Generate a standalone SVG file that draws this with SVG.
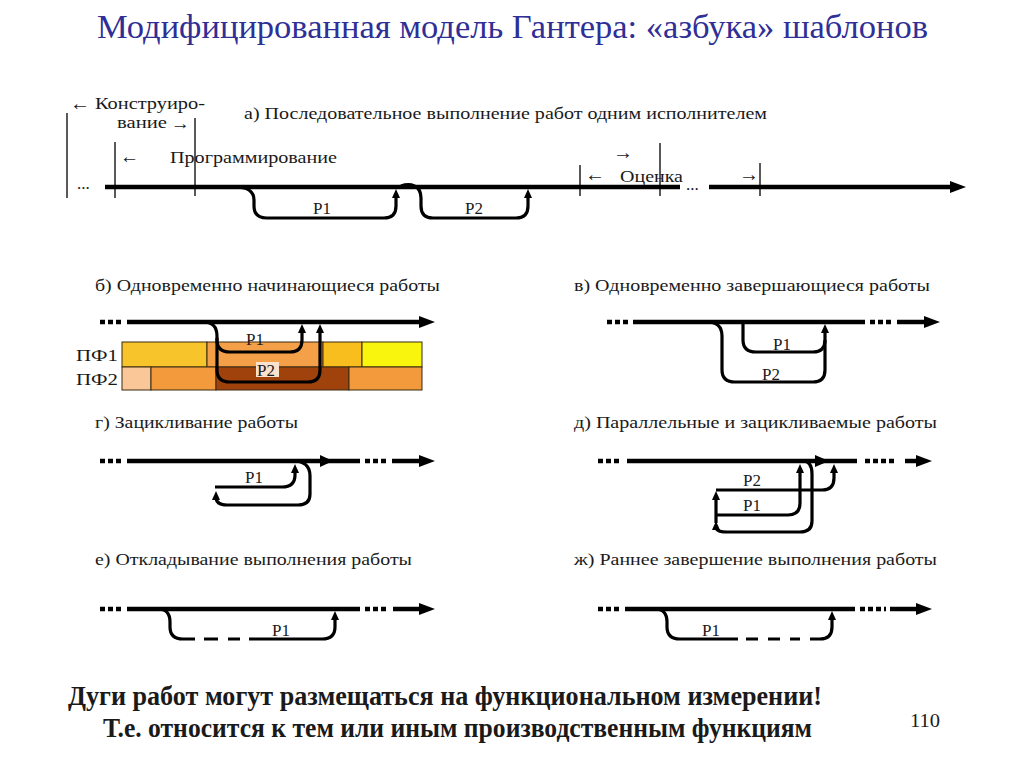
<svg xmlns="http://www.w3.org/2000/svg" width="1024" height="767" viewBox="0 0 1024 767">
<defs>
<style>
.t{font-family:"Liberation Serif","DejaVu Serif","Times New Roman",serif;fill:#1a1a1a}
.lb{font-size:17px}
.pl{font-size:17px}
.ar{font-size:20px}
.main{stroke:#000;stroke-width:4.5;fill:none}
.arc{stroke:#000;stroke-width:3.2;fill:none;stroke-linecap:butt}
.dots{stroke:#000;stroke-width:4.5;stroke-dasharray:5 3;fill:none}
.tick{stroke:#222;stroke-width:1.5}
.cell{stroke:#3a2a10;stroke-width:1}
</style>
<marker id="ah" markerUnits="userSpaceOnUse" viewBox="0 0 16 12" markerWidth="16" markerHeight="12" refX="5" refY="6" orient="auto"><path d="M0,0 L16,6 L0,12 z" fill="#000"/></marker>
<marker id="sa" markerUnits="userSpaceOnUse" viewBox="0 0 9 8" markerWidth="9" markerHeight="8" refX="3" refY="4" orient="auto"><path d="M0,0 L9,4 L0,8 z" fill="#000"/></marker>
</defs>
<rect width="1024" height="767" fill="#fff"/>

<g id="title">
<text class="t" x="97" y="38" font-size="33" style="fill:#2f2f96" textLength="831" lengthAdjust="spacingAndGlyphs">Модифицированная модель Гантера: «азбука» шаблонов</text>
</g>

<g id="sec-a">
<text class="t ar" x="70" y="110" textLength="20" lengthAdjust="spacingAndGlyphs">←</text>
<text class="t lb" x="95" y="109" textLength="110" lengthAdjust="spacingAndGlyphs">Конструиро-</text>
<text class="t lb" x="117" y="128" textLength="50" lengthAdjust="spacingAndGlyphs">вание</text>
<text class="t lb" x="171" y="129" textLength="19" lengthAdjust="spacingAndGlyphs">→</text>
<text class="t lb" x="244" y="119" textLength="523" lengthAdjust="spacingAndGlyphs">а) Последовательное выполнение работ одним исполнителем</text>
<line class="tick" x1="67" y1="113" x2="67" y2="198"/>
<line class="tick" x1="195" y1="118" x2="195" y2="196"/>
<line class="tick" x1="115" y1="142" x2="115" y2="198"/>
<line class="tick" x1="580" y1="165" x2="580" y2="196"/>
<line class="tick" x1="660" y1="143" x2="660" y2="196"/>
<line class="tick" x1="760" y1="163" x2="760" y2="196"/>
<text class="t ar" x="120" y="163" textLength="19" lengthAdjust="spacingAndGlyphs">←</text>
<text class="t lb" x="170" y="163" textLength="167" lengthAdjust="spacingAndGlyphs">Программирование</text>
<text class="t ar" x="613" y="159" textLength="20" lengthAdjust="spacingAndGlyphs">→</text>
<text class="t ar" x="585" y="181" textLength="20" lengthAdjust="spacingAndGlyphs">←</text>
<text class="t lb" x="620" y="182" textLength="63" lengthAdjust="spacingAndGlyphs">Оценка</text>
<text class="t ar" x="739" y="181" textLength="20" lengthAdjust="spacingAndGlyphs">→</text>
<text class="t lb" x="77" y="189">...</text>
<text class="t lb" x="686" y="190">...</text>
<text class="t pl" x="313" y="214">Р1</text>
<text class="t pl" x="465" y="214">Р2</text>
</g>

<g id="sec-b">
<text class="t lb" x="95" y="291" textLength="345" lengthAdjust="spacingAndGlyphs">б) Одновременно начинающиеся работы</text>
<text class="t lb" x="76" y="361" textLength="42" lengthAdjust="spacingAndGlyphs">ПФ1</text>
<text class="t lb" x="76" y="385" textLength="42" lengthAdjust="spacingAndGlyphs">ПФ2</text>
<g id="pf-table">
<rect class="cell" x="122" y="342" width="85" height="25" fill="#F7C52B"/>
<rect class="cell" x="207" y="342" width="116" height="25" fill="#F4A048"/>
<rect class="cell" x="323" y="342" width="39" height="25" fill="#F7BE1E"/>
<rect class="cell" x="362" y="342" width="60" height="25" fill="#F9F50C"/>
<rect class="cell" x="122" y="367" width="29" height="23" fill="#FAC898"/>
<rect class="cell" x="151" y="367" width="65" height="23" fill="#F39A3C"/>
<rect class="cell" x="216" y="367" width="133" height="23" fill="#A0420C"/>
<rect class="cell" x="349" y="367" width="73" height="23" fill="#F39A3C"/>
</g>
<rect x="256" y="362" width="23" height="15" fill="#FBE2CC"/>
</g>

<g id="sec-v">
<text class="t lb" x="574" y="291" textLength="356" lengthAdjust="spacingAndGlyphs">в) Одновременно завершающиеся работы</text>
<text class="t pl" x="773" y="350">Р1</text>
<text class="t pl" x="762" y="380">Р2</text>
</g>

<g id="sec-g">
<text class="t lb" x="95" y="428" textLength="203" lengthAdjust="spacingAndGlyphs">г) Зацикливание работы</text>
<text class="t pl" x="245" y="483">Р1</text>
</g>

<g id="sec-d">
<text class="t lb" x="574" y="428" textLength="363" lengthAdjust="spacingAndGlyphs">д) Параллельные и зацикливаемые работы</text>
<text class="t pl" x="743" y="486">Р2</text>
<text class="t pl" x="743" y="511">Р1</text>
</g>

<g id="sec-e">
<text class="t lb" x="95" y="565" textLength="317" lengthAdjust="spacingAndGlyphs">е) Откладывание выполнения работы</text>
<text class="t pl" x="272" y="636">Р1</text>
</g>

<g id="sec-zh">
<text class="t lb" x="574" y="565" textLength="363" lengthAdjust="spacingAndGlyphs">ж) Раннее завершение выполнения работы</text>
<text class="t pl" x="702" y="636">Р1</text>
</g>

<g id="connectors">
<!-- а -->
<path class="main" d="M105 187 L680 187"/>
<path class="main" d="M709 187 L955 187" marker-end="url(#ah)"/>
<path class="arc" d="M235 187 Q254 187 254 200 L254 206 Q254 218 267 218 L384 218 Q396 218 396 206 L396 195" marker-end="url(#sa)"/>
<path class="arc" d="M401 186 C410 183 421 185 421 198 L421 206 Q421 218 433 218 L516 218 Q528 218 528 206 L528 195" marker-end="url(#sa)"/>
<!-- б -->
<path class="dots" d="M100 322 L124 322"/>
<path class="main" d="M127 322 L424 322" marker-end="url(#ah)"/>
<path class="arc" d="M203 322 Q217 322 217 336 L217 340 Q217 352 230 352 L290 352 Q302 352 302 340 L302 330" marker-end="url(#sa)"/>
<path class="arc" d="M217 338 L217 370 Q217 382 230 382 L308 382 Q320 382 320 370 L320 330" marker-end="url(#sa)"/>
<!-- в -->
<path class="dots" d="M607 322 L631 322"/>
<path class="main" d="M633 322 L865 322"/>
<path class="dots" d="M870 322 L894 322"/>
<path class="main" d="M897 322 L929 322" marker-end="url(#ah)"/>
<path class="arc" d="M707 322 Q722 322 722 336 L722 370 Q722 382 735 382 L813 382 Q825 382 825 370 L825 330" marker-end="url(#sa)"/>
<path class="arc" d="M743 320 L743 340 Q743 352 756 352 L813 352 Q825 352 825 340"/>
<!-- г -->
<path class="dots" d="M100 461 L124 461"/>
<path class="main" d="M127 461 L360 461"/>
<path class="dots" d="M365 461 L389 461"/>
<path class="main" d="M392 461 L424 461" marker-end="url(#ah)"/>
<path d="M320 455 L333 461 L320 467 z" fill="#000"/>
<path class="arc" d="M293 461 Q310 461 310 476 L310 494 Q310 505 298 505 L227 505 Q216 505 216 497" marker-end="url(#sa)"/>
<path class="arc" d="M215 487 L282 487 Q295 487 295 475 L295 470" marker-end="url(#sa)"/>
<!-- д -->
<path class="dots" d="M598 461 L622 461"/>
<path class="main" d="M627 461 L857 461"/>
<path class="dots" d="M865 461 L896 461"/>
<path class="main" d="M905 461 L921 461" marker-end="url(#ah)"/>
<path d="M815 455 L829 461 L815 467 z" fill="#000"/>
<path class="arc" d="M803 461 Q812 461 812 474 L812 521 Q812 532 800 532 L727 532 Q716 532 716 527" marker-end="url(#sa)"/>
<path class="arc" d="M716 523 L716 497" marker-end="url(#sa)"/>
<path class="arc" d="M716 515 L788 515 Q800 515 800 503 L800 470" marker-end="url(#sa)"/>
<path class="arc" d="M716 490 L822 490 Q834 490 834 478 L834 470" marker-end="url(#sa)"/>
<!-- е -->
<path class="dots" d="M100 609 L124 609"/>
<path class="main" d="M127 609 L360 609"/>
<path class="dots" d="M365 609 L389 609"/>
<path class="main" d="M393 609 L424 609" marker-end="url(#ah)"/>
<path class="arc" d="M158 609 Q170 609 170 622 L170 627 Q170 639 183 639 L195 639"/>
<path class="arc" d="M204 639 L218 639 M228 639 L240 639"/>
<path class="arc" d="M249 639 L322 639 Q335 639 335 627 L335 617" marker-end="url(#sa)"/>
<!-- ж -->
<path class="dots" d="M598 609 L622 609"/>
<path class="main" d="M625 609 L855 609"/>
<path class="dots" d="M860 609 L886 609"/>
<path class="main" d="M890 609 L921 609" marker-end="url(#ah)"/>
<path class="arc" d="M655 609 Q667 609 667 622 L667 627 Q667 639 680 639 L738 639"/>
<path class="arc" d="M746 639 L758 639 M768 639 L780 639 M790 639 L800 639"/>
<path class="arc" d="M810 639 L820 639 Q832 639 832 627 L832 617" marker-end="url(#sa)"/>
</g>

<g id="sec-b-labels">
<text class="t pl" x="246" y="345">Р1</text>
<text class="t pl" x="257" y="376">Р2</text>
</g>

<g id="footer">
<text class="t" x="68" y="705" font-size="27" font-weight="bold" textLength="754" lengthAdjust="spacingAndGlyphs">Дуги работ могут размещаться на функциональном измерении!</text>
<text class="t" x="103" y="737" font-size="27" font-weight="bold" textLength="709" lengthAdjust="spacingAndGlyphs">Т.е. относится к тем или иным производственным функциям</text>
<text class="t" x="910" y="727" font-size="19" textLength="30" lengthAdjust="spacingAndGlyphs">110</text>
</g>
</svg>
